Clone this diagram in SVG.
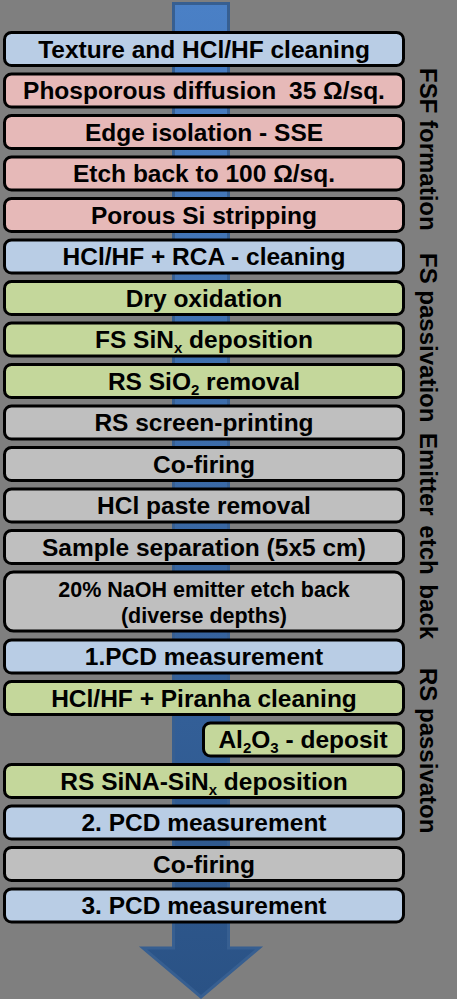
<svg xmlns="http://www.w3.org/2000/svg" width="457" height="999" viewBox="0 0 457 999">
<style>
.bx{stroke:#000;stroke-width:3}
.blue{fill:#b9cde5}.pink{fill:#e6b9b8}.green{fill:#c4d79b}.grey{fill:#bfbfbf}
.t{font-family:"Liberation Sans",Arial,sans-serif;font-weight:bold;font-size:24.5px;fill:#000;text-anchor:middle}
.s{font-family:"Liberation Sans",Arial,sans-serif;font-weight:bold;font-size:21.5px;fill:#000;text-anchor:middle}
.side{font-family:"Liberation Sans",Arial,sans-serif;font-weight:bold;font-size:24px;fill:#000}
.sub{font-size:15px}
</style>
<defs>
<linearGradient id="ag" x1="0" y1="0" x2="0" y2="1">
<stop offset="0" stop-color="#4a80c6"/>
<stop offset="1" stop-color="#2a5285"/>
</linearGradient>
</defs>
<rect width="457" height="999" fill="#7f7f7f"/>
<g id="connectors">
<path d="M173.5,3.5 H228.5 V948 H259 L201,997 L143,948 H173.5 Z" fill="url(#ag)" stroke="#375f91" stroke-width="3" stroke-linejoin="miter"/>
</g>
<g id="n1"><rect class="bx blue" x="4.5" y="32.5" width="399" height="33" rx="7"/><text class="t" x="204" y="57.5">Texture and HCl/HF cleaning</text></g>
<g id="n2"><rect class="bx pink" x="4.5" y="74" width="399" height="33" rx="7"/><text class="t" x="204" y="99">Phosporous diffusion <tspan dx="6">35 Ω/sq.</tspan></text></g>
<g id="n3"><rect class="bx pink" x="4.5" y="115.5" width="399" height="33" rx="7"/><text class="t" x="204" y="140.5">Edge isolation - SSE</text></g>
<g id="n4"><rect class="bx pink" x="4.5" y="157" width="399" height="33" rx="7"/><text class="t" x="204" y="182">Etch back to 100 Ω/sq.</text></g>
<g id="n5"><rect class="bx pink" x="4.5" y="198.5" width="399" height="33" rx="7"/><text class="t" x="204" y="223.5">Porous Si stripping</text></g>
<g id="n6"><rect class="bx blue" x="4.5" y="240" width="399" height="33" rx="7"/><text class="t" x="204" y="265">HCl/HF + RCA - cleaning</text></g>
<g id="n7"><rect class="bx green" x="4.5" y="281.5" width="399" height="33" rx="7"/><text class="t" x="204" y="306.5">Dry oxidation</text></g>
<g id="n8"><rect class="bx green" x="4.5" y="323" width="399" height="33" rx="7"/><text class="t" x="204" y="348">FS SiN<tspan class="sub" dy="5">x</tspan><tspan dy="-5"> deposition</tspan></text></g>
<g id="n9"><rect class="bx green" x="4.5" y="364.5" width="399" height="33" rx="7"/><text class="t" x="204" y="389.5">RS SiO<tspan class="sub" dy="5">2</tspan><tspan dy="-5"> removal</tspan></text></g>
<g id="n10"><rect class="bx grey" x="4.5" y="406" width="399" height="33" rx="7"/><text class="t" x="204" y="431">RS screen-printing</text></g>
<g id="n11"><rect class="bx grey" x="4.5" y="447.5" width="399" height="33" rx="7"/><text class="t" x="204" y="472.5">Co-firing</text></g>
<g id="n12"><rect class="bx grey" x="4.5" y="489" width="399" height="33" rx="7"/><text class="t" x="204" y="514">HCl paste removal</text></g>
<g id="n13"><rect class="bx grey" x="4.5" y="530.5" width="399" height="33" rx="7"/><text class="t" x="204" y="555.5">Sample separation (5x5 cm)</text></g>
<g id="n14"><rect class="bx grey" x="4.5" y="572" width="399" height="59" rx="9"/><text class="s" x="204" y="597">20% NaOH emitter etch back</text><text class="s" x="204" y="623">(diverse depths)</text></g>
<g id="n15"><rect class="bx blue" x="4.5" y="640" width="399" height="33" rx="7"/><text class="t" x="204" y="665">1.PCD measurement</text></g>
<g id="n16"><rect class="bx green" x="4.5" y="681.5" width="399" height="33" rx="7"/><text class="t" x="204" y="706.5">HCl/HF + Piranha cleaning</text></g>
<g id="n17"><rect class="bx green" x="203.5" y="723" width="200" height="33" rx="7"/><text class="t" x="303" y="748">Al<tspan class="sub" dy="5">2</tspan><tspan dy="-5">O</tspan><tspan class="sub" dy="5">3</tspan><tspan dy="-5"> - deposit</tspan></text></g>
<g id="n18"><rect class="bx green" x="4.5" y="764.5" width="399" height="33" rx="7"/><text class="t" x="204" y="789.5">RS SiNA-SiN<tspan class="sub" dy="5">x</tspan><tspan dy="-5"> deposition</tspan></text></g>
<g id="n19"><rect class="bx blue" x="4.5" y="806" width="399" height="33" rx="7"/><text class="t" x="204" y="831">2. PCD measurement</text></g>
<g id="n20"><rect class="bx grey" x="4.5" y="847.5" width="399" height="33" rx="7"/><text class="t" x="204" y="872.5">Co-firing</text></g>
<g id="n21"><rect class="bx blue" x="4.5" y="889" width="399" height="33" rx="7"/><text class="t" x="204" y="914">3. PCD measurement</text></g>
<g id="labels">
<text class="side" transform="translate(420,68) rotate(90)">FSF formation</text>
<text class="side" transform="translate(420,253) rotate(90)">FS passivation</text>
<text class="side" transform="translate(420,433) rotate(90)" word-spacing="3">Emitter etch back</text>
<text class="side" transform="translate(420,668) rotate(90)">RS passivaton</text>
</g>
</svg>
